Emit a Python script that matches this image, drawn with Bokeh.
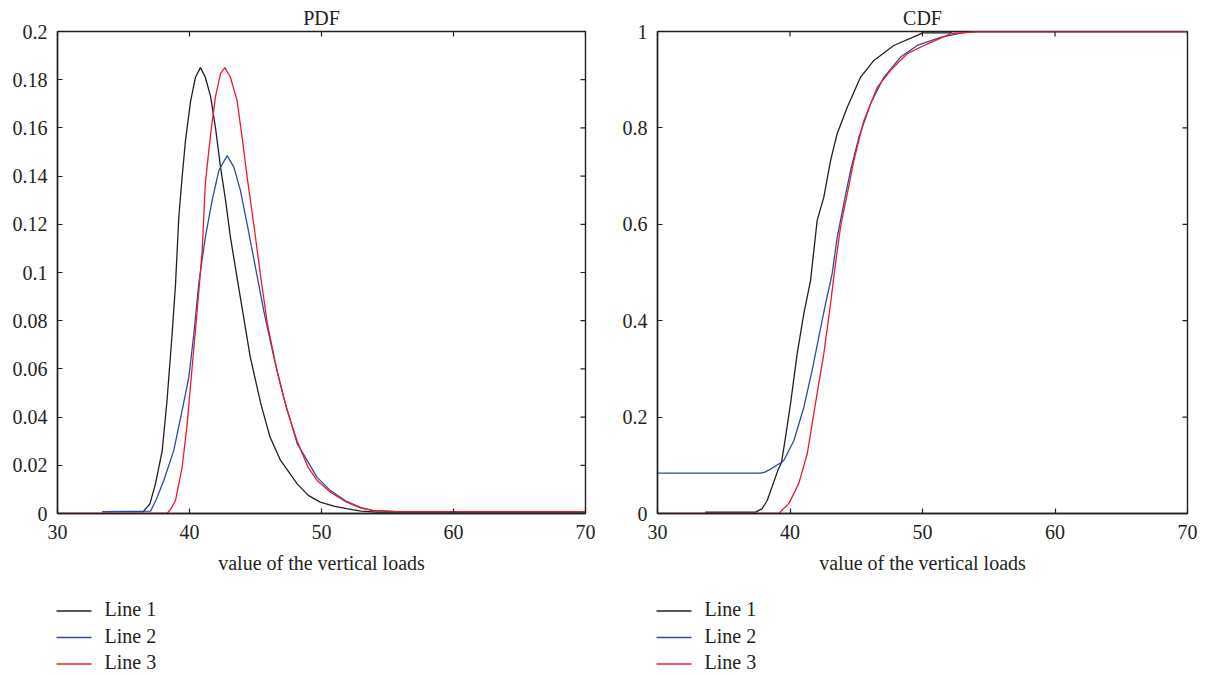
import math
from bokeh.plotting import figure
from bokeh.models import Range1d, FixedTicker
from bokeh.layouts import row, column
from bokeh.core.properties import value
from bokeh.embed import file_html
from bokeh.resources import INLINE

# ---------------- data ----------------
series_names = ["Line 1", "Line 2", "Line 3"]

pdf_line1_x = [33.4, 36.5, 37.0, 37.42, 37.93, 38.3, 38.69, 38.94, 39.19, 39.44, 39.7, 40.08, 40.45, 40.83,
               41.2, 41.6, 41.97, 42.35, 42.73, 43.1, 43.6, 44.1, 44.6, 45.4, 46.1, 46.9, 48.16, 49.0,
               49.9, 51.0, 51.9, 53.0, 54.2, 70.0]
pdf_line1_y = [0.0008, 0.0008, 0.004, 0.0123, 0.026, 0.047, 0.075, 0.095, 0.123, 0.1395, 0.155, 0.171, 0.181, 0.185,
               0.181, 0.173, 0.160, 0.1437, 0.130, 0.1147, 0.098, 0.0815, 0.065, 0.0456, 0.0317, 0.022, 0.0123, 0.0075,
               0.0047, 0.003, 0.002, 0.001, 0.0006, 0.0006]

pdf_line2_x = [33.4, 37.05, 37.5, 38.05, 38.8, 39.44, 39.95, 40.33, 40.7, 41.2, 41.72, 42.22, 42.85, 43.36,
               43.86, 44.37, 45.0, 45.63, 46.39, 47.14, 48.16, 49.67, 50.68, 51.9, 53.0, 53.9, 55.7, 70.0]
pdf_line2_y = [0.0008, 0.001, 0.006, 0.0137, 0.026, 0.0427, 0.0566, 0.0746, 0.0953, 0.1147, 0.130, 0.1423, 0.1485, 0.1437,
               0.134, 0.120, 0.102, 0.084, 0.0649, 0.048, 0.029, 0.015, 0.0095, 0.005, 0.0024, 0.0013, 0.0008, 0.0008]

pdf_line3_x = [30.0, 38.3, 38.6, 38.94, 39.44, 39.82, 40.2, 40.58, 40.96, 41.2, 41.6, 41.97, 42.35, 42.68,
               43.1, 43.6, 43.99, 44.37, 44.87, 45.4, 45.9, 46.64, 47.4, 48.16, 49.0, 49.67, 50.68, 51.9,
               53.0, 53.9, 55.7, 70.0]
pdf_line3_y = [0.0, 0.0, 0.002, 0.0054, 0.019, 0.037, 0.0607, 0.084, 0.109, 0.137, 0.1575, 0.173, 0.1825, 0.185,
               0.181, 0.1714, 0.156, 0.1395, 0.120, 0.098, 0.0787, 0.059, 0.0427, 0.030, 0.019, 0.0137, 0.0088, 0.0047,
               0.0022, 0.0012, 0.0008, 0.0008]

cdf_line1_x = [33.6, 37.4, 37.9, 38.28, 39.08, 39.36, 39.66, 40.04, 40.54, 41.04, 41.55, 42.05, 42.55, 43.06,
               43.56, 44.32, 45.32, 46.33, 47.83, 49.6, 50.0, 52.1, 52.2, 70.0]
cdf_line1_y = [0.003, 0.003, 0.01, 0.027, 0.089, 0.106, 0.158, 0.228, 0.331, 0.414, 0.483, 0.608, 0.656, 0.732,
               0.788, 0.843, 0.905, 0.94, 0.971, 0.992, 0.997, 0.997, 1.0, 1.0]

cdf_line2_x = [30.0, 37.77, 38.1, 38.53, 39.0, 39.36, 39.53, 40.29, 41.04, 41.67, 42.17, 42.68, 43.18, 43.56,
               44.06, 44.57, 45.19, 46.08, 47.08, 48.34, 49.6, 51.36, 53.0, 54.1, 70.0]
cdf_line2_y = [0.0836, 0.0836, 0.086, 0.092, 0.1, 0.106, 0.11, 0.151, 0.22, 0.297, 0.366, 0.435, 0.497, 0.573,
               0.643, 0.712, 0.78, 0.85, 0.905, 0.947, 0.971, 0.988, 0.997, 1.0, 1.0]

cdf_line3_x = [30.0, 39.16, 39.5, 39.9, 40.66, 41.3, 41.92, 42.55, 43.06, 43.43, 43.81, 44.32, 44.82, 45.57,
               46.58, 47.58, 48.84, 50.35, 52.1, 54.1, 70.0]
cdf_line3_y = [0.0, 0.0, 0.01, 0.02, 0.062, 0.124, 0.228, 0.331, 0.435, 0.518, 0.594, 0.663, 0.732, 0.815,
               0.884, 0.919, 0.954, 0.974, 0.995, 1.0, 1.0]

x_ticks = [30, 40, 50, 60, 70]
x_tick_labels = ["30", "40", "50", "60", "70"]
pdf_y_ticks = [0, 0.02, 0.04, 0.06, 0.08, 0.1, 0.12, 0.14, 0.16, 0.18, 0.2]
pdf_y_tick_labels = ["0", "0.02", "0.04", "0.06", "0.08", "0.1", "0.12", "0.14", "0.16", "0.18", "0.2"]
cdf_y_ticks = [0, 0.2, 0.4, 0.6, 0.8, 1.0]
cdf_y_tick_labels = ["0", "0.2", "0.4", "0.6", "0.8", "1"]

titles = ["PDF", "CDF"]
x_label = "value of the vertical loads"

# ---------------- style ----------------
FONT = "Liberation Serif"
TXT = "#231f20"
INK = "#231f20"
colors = ["#231f20", "#2e4aa8", "#ed1c24"]
TOP, FRAME_H, BOTTOM = 31, 482, 70
LEG_H = 92


def style_axis(ax, ticks, labels):
    ax.ticker = FixedTicker(ticks=ticks)
    ax.major_label_overrides = {t: l for t, l in zip(ticks, labels)}
    ax.minor_tick_line_color = None
    ax.major_tick_in = 5
    ax.major_tick_out = 0
    ax.major_tick_line_color = INK
    ax.major_tick_line_width = 1.2
    ax.axis_line_color = INK
    ax.axis_line_width = 1.4
    ax.major_label_text_font = FONT
    ax.major_label_text_color = TXT
    ax.major_label_text_font_size = "20px"


def make_panel(title, xs, ys, yticks, ylabels, xmax, ymax, left_border, frame_w, right_border):
    p = figure(width=left_border + frame_w + right_border, height=TOP + FRAME_H + BOTTOM,
               x_range=Range1d(30, xmax), y_range=Range1d(0, ymax),
               output_backend="svg", toolbar_location=None,
               min_border_left=left_border, min_border_right=right_border,
               min_border_top=TOP, min_border_bottom=BOTTOM)
    p.xgrid.visible = False
    p.ygrid.visible = False
    p.outline_line_color = INK
    p.outline_line_width = 1.4
    p.background_fill_color = "white"
    p.border_fill_color = "white"

    p.title.text = title
    p.title.align = "center"
    p.title.text_font = FONT
    p.title.text_font_size = "20px"
    p.title.text_font_style = "normal"
    p.title.text_color = TXT
    p.title.standoff = 6

    style_axis(p.xaxis[0], x_ticks, x_tick_labels)
    p.xaxis[0].major_label_standoff = 11
    p.xaxis[0].axis_label = x_label
    p.xaxis[0].axis_label_text_font = FONT
    p.xaxis[0].axis_label_text_font_size = "20px"
    p.xaxis[0].axis_label_text_font_style = "normal"
    p.xaxis[0].axis_label_text_color = TXT
    p.xaxis[0].axis_label_standoff = 10

    style_axis(p.yaxis[0], yticks, ylabels)
    p.yaxis[0].major_label_standoff = 10

    # inward ticks on the top and right edges of the box, from the same tick lists
    p.ray(x=x_ticks, y=[ymax] * len(x_ticks), length=5, length_units="screen",
          angle=-math.pi / 2, line_color=INK, line_width=1.2)
    p.ray(x=[xmax] * len(yticks), y=yticks, length=5, length_units="screen",
          angle=math.pi, line_color=INK, line_width=1.2)

    for x, y, c in zip(xs, ys, colors):
        p.line(x, y, line_color=c, line_width=1.3)
    return p


def make_legend(width, left_border):
    # a small canvas in pixel units (y downwards) holding the key below a panel
    lg = figure(width=width, height=LEG_H, x_range=Range1d(0, width), y_range=Range1d(LEG_H, 0),
                output_backend="svg", toolbar_location=None, title=None,
                x_axis_location=None, y_axis_location=None,
                min_border_left=0, min_border_right=0, min_border_top=0, min_border_bottom=0)
    lg.xgrid.visible = False
    lg.ygrid.visible = False
    lg.outline_line_color = None
    lg.border_fill_color = "white"
    n = len(series_names)
    line_y = [27.5 + 26.5 * i for i in range(n)]
    text_y = [v - 1.7 for v in line_y]
    lg.segment(x0=[left_border - 1] * n, y0=line_y, x1=[left_border + 34] * n, y1=line_y,
               line_color=colors, line_width=1.3)
    lg.text(x=[left_border + 47] * n, y=text_y, text=series_names,
            text_font=value(FONT), text_font_size="20px", text_color=TXT,
            text_baseline="middle", text_align="left")
    return lg


p1 = make_panel(titles[0], [pdf_line1_x, pdf_line2_x, pdf_line3_x],
                [pdf_line1_y, pdf_line2_y, pdf_line3_y], pdf_y_ticks, pdf_y_tick_labels, 70, 0.2,
                57, 528, 10)
p2 = make_panel(titles[1], [cdf_line1_x, cdf_line2_x, cdf_line3_x],
                [cdf_line1_y, cdf_line2_y, cdf_line3_y], cdf_y_ticks, cdf_y_tick_labels, 70, 1.0,
                62, 530, 10)
l1 = make_legend(57 + 528 + 10, 57)
l2 = make_legend(62 + 530 + 10, 62)

layout = column(row(p1, p2), row(l1, l2))
open("out.html", "w").write(file_html(layout, INLINE))
